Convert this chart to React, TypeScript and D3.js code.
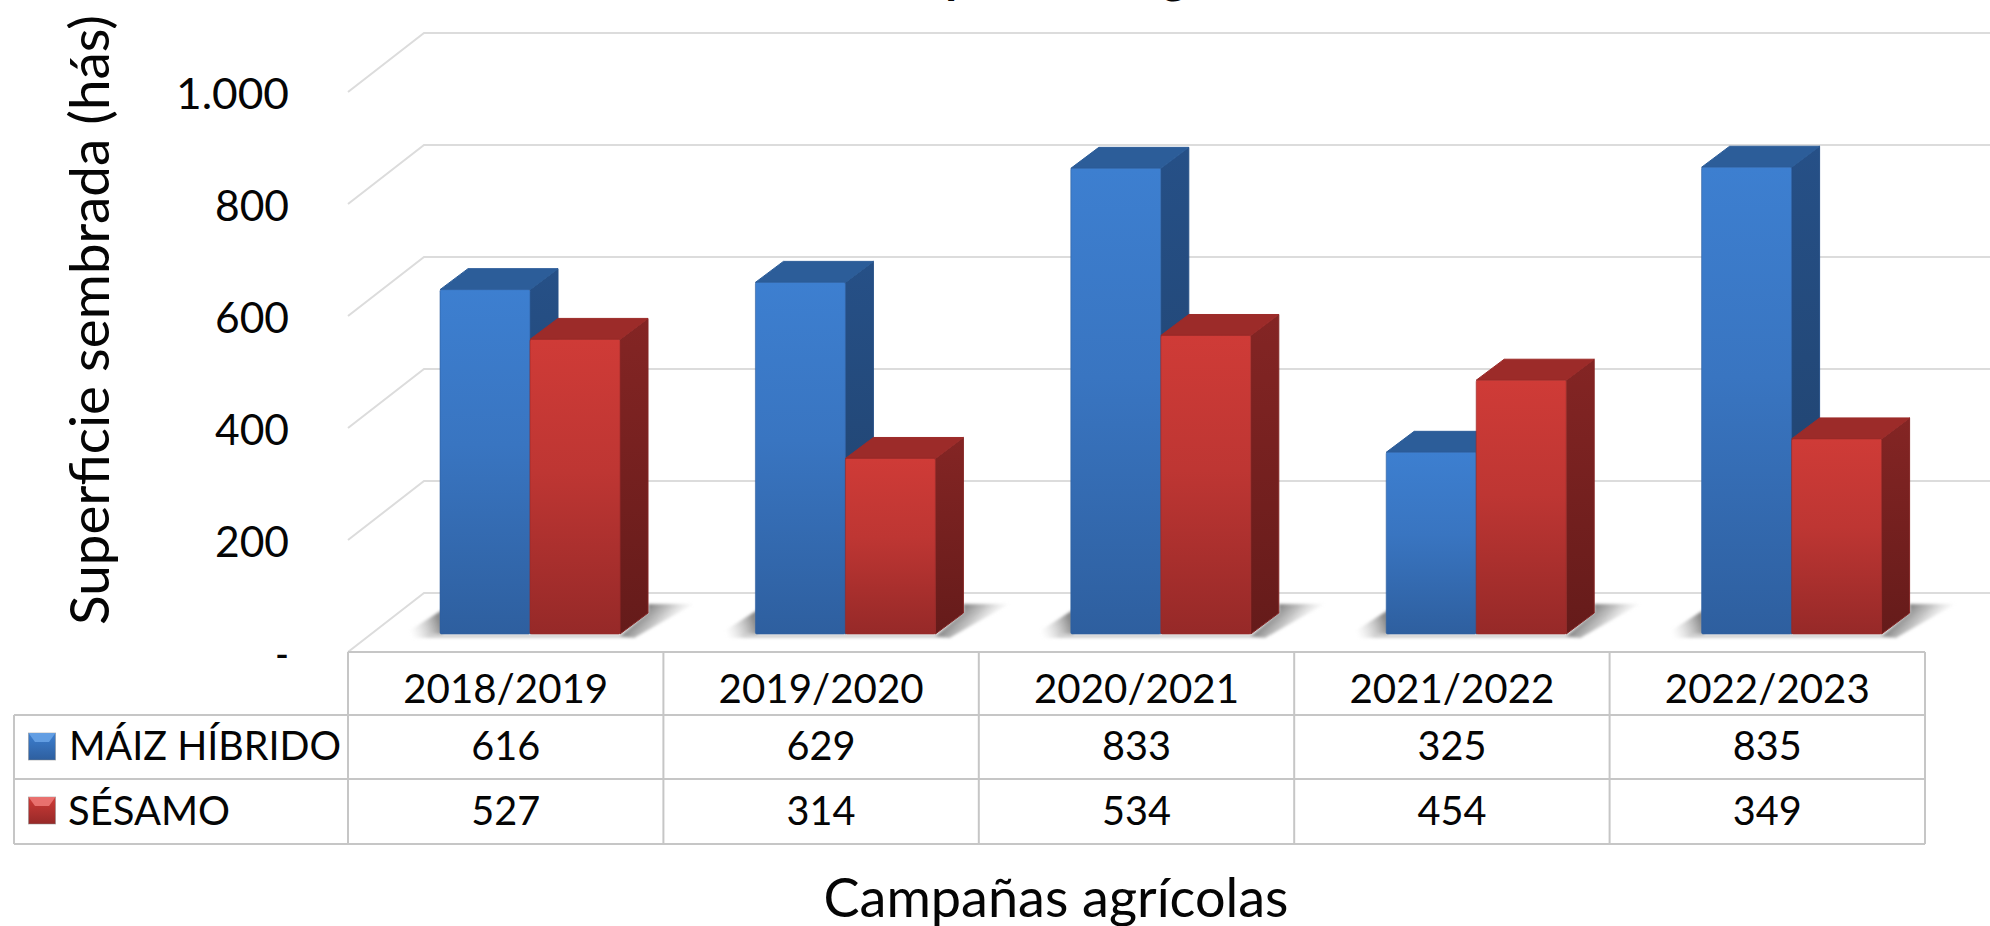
import React from "react";
import * as d3 from "d3";

const categories = ["2018/2019", "2019/2020", "2020/2021", "2021/2022", "2022/2023"];
const seriesNames = ["MÁIZ HÍBRIDO", "SÉSAMO"];
const maizValues = [616, 629, 833, 325, 835];
const sesamoValues = [527, 314, 534, 454, 349];
const yTicks = [0, 200, 400, 600, 800, 1000];
const yTickLabels = ["-", "200", "400", "600", "800", "1.000"];

const W = 1990, H = 926;
const FONT = "Lato, Carlito, 'Open Sans', sans-serif";
const GRID = "#dcdcdc", BORDER = "#c6c6c6", INK = "#050505";

// table / plot frame
const tableL = 348, tableR = 1925, legendL = 14;
const rowY = [652, 715, 779, 844];
const x = d3.scaleBand<string>().domain(categories).range([tableL, tableR]);
const xBar = d3.scaleBand<string>().domain(seriesNames).range([92, 272]);
// wall gridlines at the front edge of the floor
const yFront = d3.scaleLinear().domain([0, 1000]).range([652, 92]);
const yBar = d3.scaleLinear().domain([0, 1000]).range([634, 75]);
const wallDX = 77, wallDY = 59;
const barDX = 28, barDY = 21;

const palette = [
  { front0: "#3d7fd0", front1: "#2e5f9f", top: "#2c5d99", side0: "#265087", side1: "#1f4069", keyTop: "#6aa5e8" },
  { front0: "#cf3b37", front1: "#962928", top: "#9c2b29", side0: "#842524", side1: "#651b1a", keyTop: "#ee7a78" },
];

function T(p: any) {
  const { len, children, ...rest } = p;
  return (
    <text fontFamily={FONT} fill={INK} textLength={len} lengthAdjust="spacingAndGlyphs" {...rest}>
      {children}
    </text>
  );
}

export default function App() {
  const table = [maizValues, sesamoValues];
  const bw = xBar.bandwidth();
  return (
    <svg width={W} height={H} viewBox={`0 0 ${W} ${H}`} style={{ position: "absolute", left: 0, top: 0, display: "block", background: "#fff" }}>
      <defs>
        {palette.map((c, i) => (
          <React.Fragment key={i}>
            <linearGradient id={`front${i}`} x1="0" y1="0" x2="0" y2="1">
              <stop offset="0" stopColor={c.front0} />
              <stop offset="0.45" stopColor={d3.interpolateRgb(c.front0, c.front1)(0.3)} />
              <stop offset="1" stopColor={c.front1} />
            </linearGradient>
            <linearGradient id={`side${i}`} x1="0" y1="0" x2="0" y2="1">
              <stop offset="0" stopColor={c.side0} />
              <stop offset="1" stopColor={c.side1} />
            </linearGradient>
            <linearGradient id={`key${i}`} x1="0" y1="0" x2="0" y2="1">
              <stop offset="0" stopColor={c.front0} />
              <stop offset="1" stopColor={c.front1} />
            </linearGradient>
          </React.Fragment>
        ))}
        {categories.map((cat, ci) => {
          const L = x(cat)! + xBar(seriesNames[0])!;
          const R = x(cat)! + xBar(seriesNames[1])! + bw;
          return (
            <React.Fragment key={cat}>
              <linearGradient id={`shR${ci}`} gradientUnits="userSpaceOnUse" x1={R + 22} y1={606} x2={R + 50} y2={632}>
                <stop offset="0" stopColor="#707070" />
                <stop offset="0.5" stopColor="#b0b0b0" stopOpacity="0.8" />
                <stop offset="1" stopColor="#d8d8d8" stopOpacity="0" />
              </linearGradient>
              <linearGradient id={`shL${ci}`} gradientUnits="userSpaceOnUse" x1={L} y1={622} x2={L - 30} y2={632}>
                <stop offset="0" stopColor="#8a8a8a" />
                <stop offset="1" stopColor="#d0d0d0" stopOpacity="0" />
              </linearGradient>
            </React.Fragment>
          );
        })}
        <filter id="soft" x="-20%" y="-20%" width="140%" height="140%">
          <feGaussianBlur stdDeviation="1.6" />
        </filter>
      </defs>

      {/* walls */}
      {yTicks.map((t) => {
        const y0 = yFront(t);
        return (
          <path
            key={t}
            d={`M${tableL},${y0}L${tableL + wallDX - 1},${y0 - wallDY}L${W},${y0 - wallDY}`}
            fill="none"
            stroke={GRID}
            strokeWidth={2}
          />
        );
      })}

      {/* ground shadows */}
      {categories.map((cat, ci) => {
        const L = x(cat)! + xBar(seriesNames[0])!;
        const R = x(cat)! + xBar(seriesNames[1])! + bw;
        return (
          <g key={cat} filter="url(#soft)">
            <path d={`M${L - 42},638L${L + 2},638L${L + 2},610Z`} fill={`url(#shL${ci})`} />
            <rect x={L - 10} y={634} width={R - L + 20} height={4} fill="#d2d2d2" />
            <path
              d={`M${R},636L${R + barDX},612L${R + barDX},604L${R + barDX + 46},604L${R + 14},638Z`}
              fill={`url(#shR${ci})`}
            />
          </g>
        );
      })}

      {/* bars */}
      {categories.map((cat, ci) => (
        <g key={cat}>
          {seriesNames.map((s, si) => {
            const x0 = x(cat)! + xBar(s)!;
            const x1 = x0 + bw;
            const y0 = yBar(table[si][ci]);
            const yb = yBar(0);
            const top = `M${x0},${y0}L${x0 + barDX},${y0 - barDY}L${x1 + barDX},${y0 - barDY}L${x1},${y0}Z`;
            const side = `M${x1},${y0}L${x1 + barDX},${y0 - barDY}L${x1 + barDX},${yb - barDY}L${x1},${yb}Z`;
            return (
              <g key={s} strokeLinejoin="round">
                <path d={side} fill={`url(#side${si})`} stroke={palette[si].side0} strokeWidth={1} />
                <path d={top} fill={palette[si].top} stroke={palette[si].top} strokeWidth={1} />
                <rect x={x0} y={y0} width={bw} height={yb - y0} rx={1.5} fill={`url(#front${si})`} stroke={palette[si].front1} strokeOpacity={0.6} strokeWidth={1} />
              </g>
            );
          })}
        </g>
      ))}

      {/* y ticks */}
      {yTicks.map((t, i) => {
        const label = yTickLabels[i];
        const n = label.length;
        return (
          <T
            key={t}
            x={289}
            y={yFront(t) + 17}
            fontSize={43}
            textAnchor="end"
            len={n === 5 ? 113 : n === 3 ? 74 : 14}
          >
            {label}
          </T>
        );
      })}

      {/* axis titles */}
      <T x={0} y={0} fontSize={54} textAnchor="middle" len={610} transform="translate(109,320) rotate(-90)">
        Superficie sembrada (hás)
      </T>
      <T x={1056} y={917} fontSize={54} textAnchor="middle" len={465}>
        Campañas agrícolas
      </T>

      {/* chart title: only the descenders survive the crop at the top of the image */}
      <T x={959} y={-7} fontSize={48} fontWeight={700} textAnchor="middle">p</T>
      <T x={1174} y={-7} fontSize={48} fontWeight={700} textAnchor="middle">g</T>

      {/* data table */}
      <g stroke={BORDER} strokeWidth={2} fill="none">
        <path d={`M${tableL},${rowY[0]}L${tableR},${rowY[0]}`} />
        <path d={`M${legendL},${rowY[1]}L${tableR},${rowY[1]}`} />
        <path d={`M${legendL},${rowY[2]}L${tableR},${rowY[2]}`} />
        <path d={`M${legendL},${rowY[3]}L${tableR},${rowY[3]}`} />
        <path d={`M${legendL},${rowY[1]}L${legendL},${rowY[3]}`} />
        <path d={`M${tableL},${rowY[0]}L${tableL},${rowY[3]}`} />
        {categories.map((c) => (
          <path key={c} d={`M${x(c)! + x.bandwidth()},${rowY[0]}L${x(c)! + x.bandwidth()},${rowY[3]}`} />
        ))}
      </g>
      {categories.map((c) => (
        <T key={c} x={x(c)! + x.bandwidth() / 2} y={703} fontSize={40} textAnchor="middle" len={205}>
          {c}
        </T>
      ))}
      {seriesNames.map((s, si) => {
        const by = rowY[si + 1] + 18;
        return (
          <g key={s}>
            <rect x={28.5} y={by} width={27} height={27} fill={`url(#key${si})`} stroke="#8a8a8a" strokeOpacity={0.5} strokeWidth={1} />
            <path d={`M28.5,${by}L55.5,${by}L49,${by + 9}L35,${by + 9}Z`} fill={palette[si].keyTop} opacity={0.85} />
            <T x={si === 0 ? 69 : 68} y={si === 0 ? 760 : 825} fontSize={40} len={si === 0 ? 272 : 162}>
              {s}
            </T>
            {categories.map((c, ci) => (
              <T key={c} x={x(c)! + x.bandwidth() / 2} y={si === 0 ? 760 : 825} fontSize={40} textAnchor="middle" len={69}>
                {table[si][ci]}
              </T>
            ))}
          </g>
        );
      })}
    </svg>
  );
}
